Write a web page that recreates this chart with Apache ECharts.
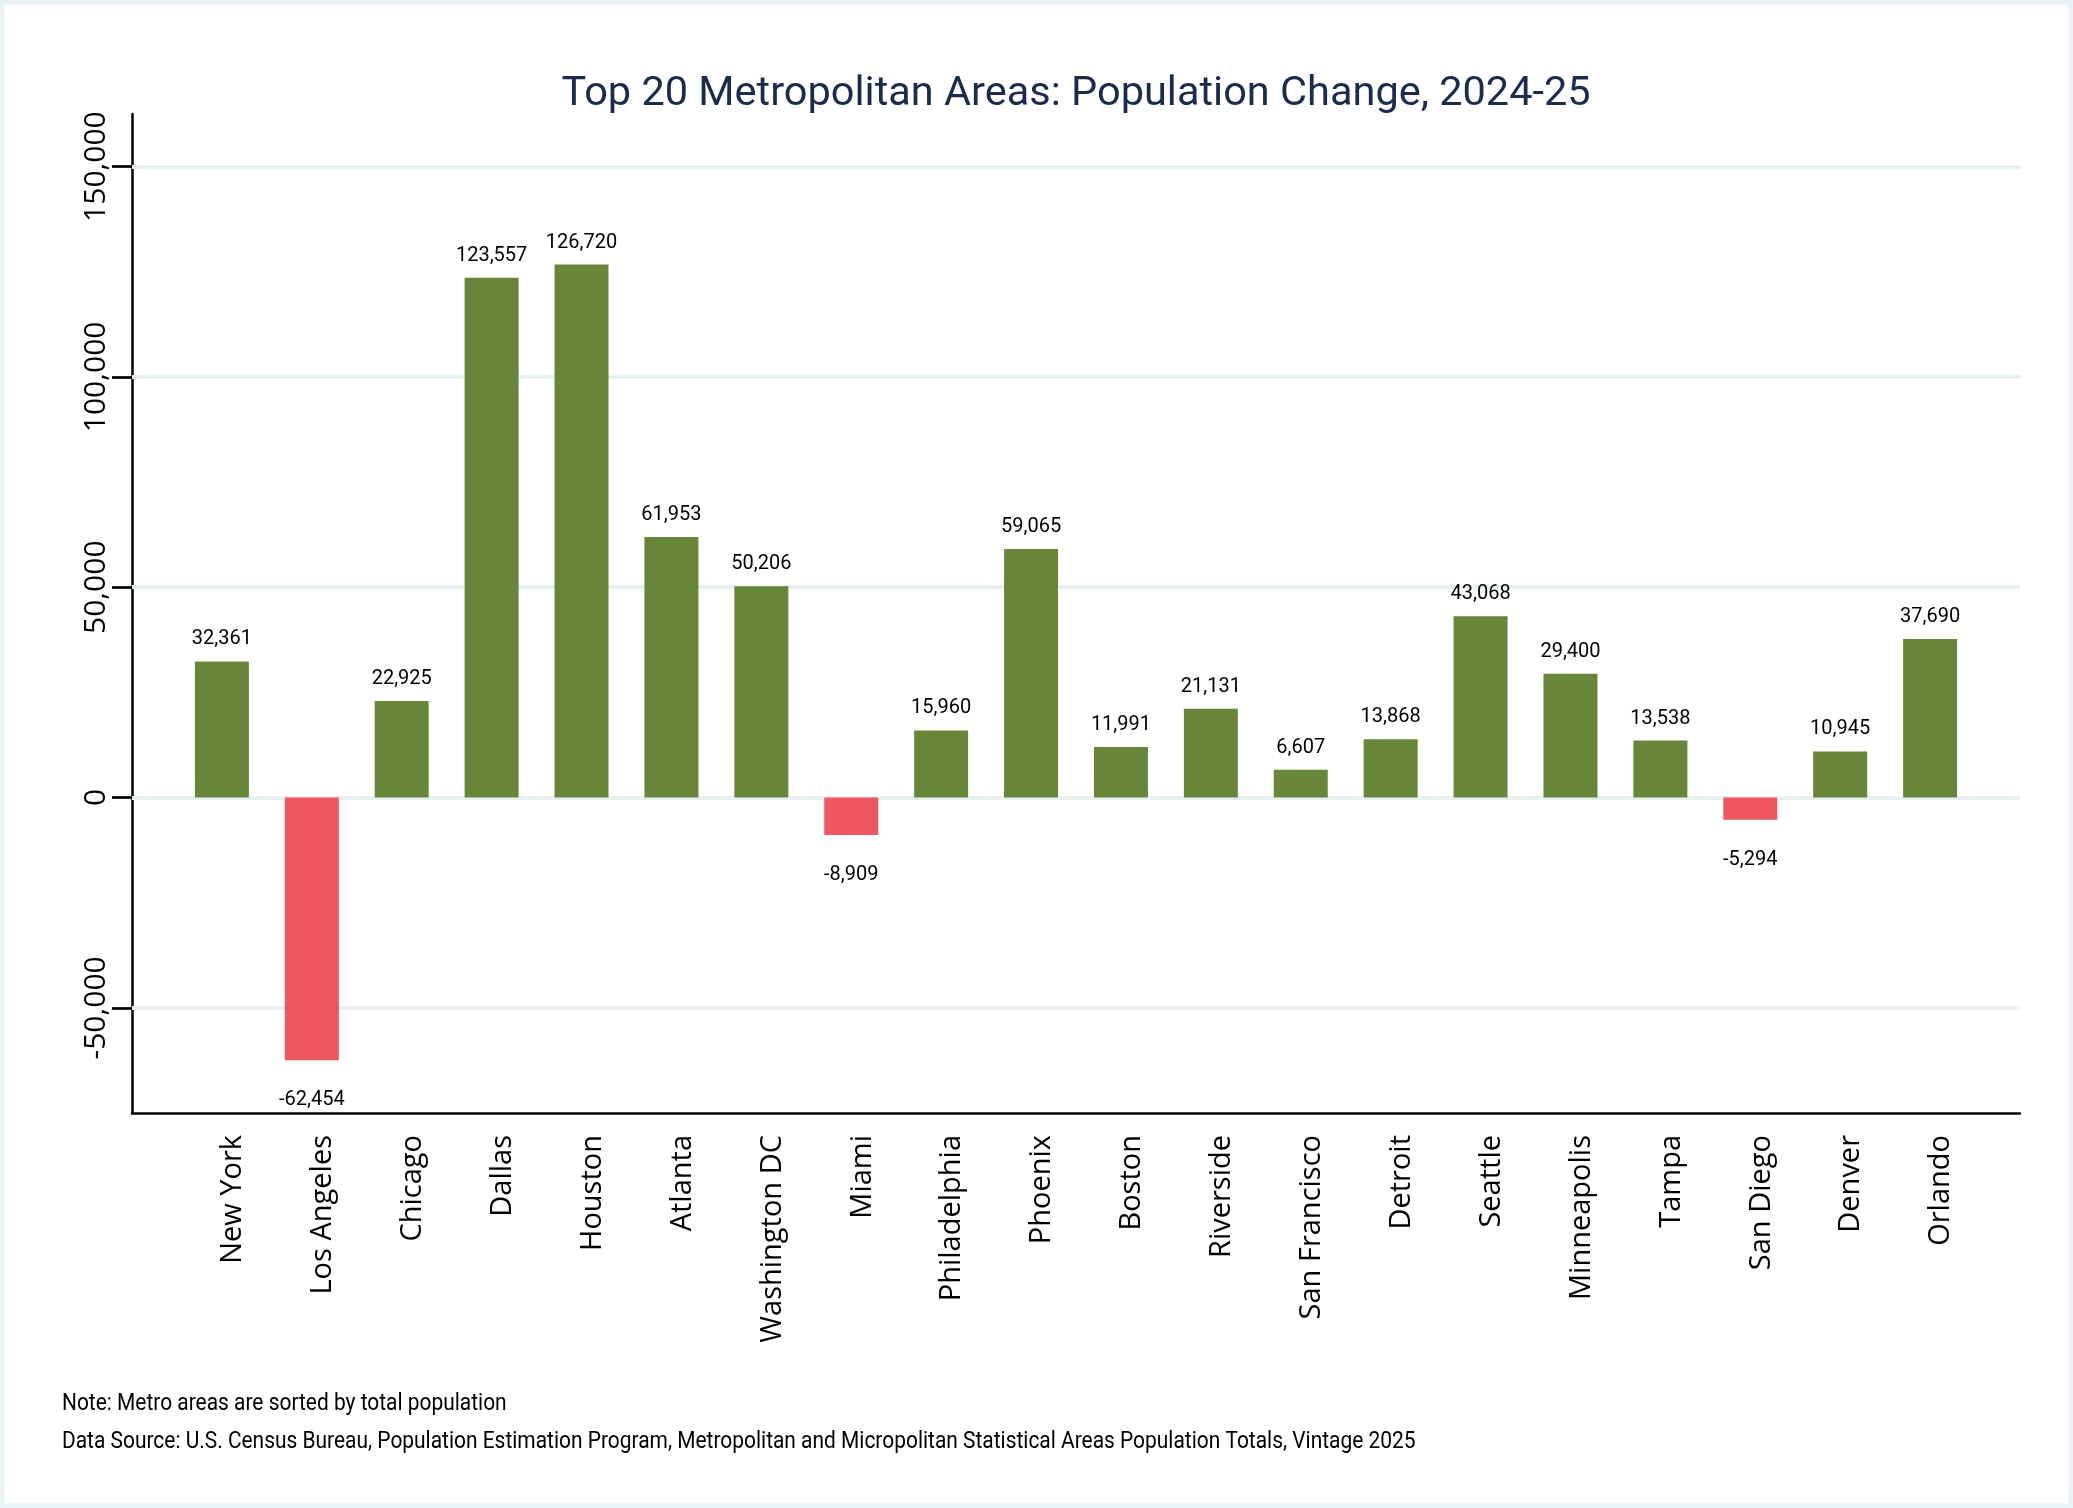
<!DOCTYPE html>
<html>
<head>
<meta charset="utf-8">
<script src="https://cdn.jsdelivr.net/npm/echarts@6/dist/echarts.min.js"></script>
<style>
  html, body { margin: 0; padding: 0; background: #ffffff; }
  #chart { width: 2073px; height: 1508px; }
</style>
</head>
<body>
<div id="chart"></div>
<script>
// ---- Data ----
const metros = ["New York", "Los Angeles", "Chicago", "Dallas", "Houston", "Atlanta", "Washington DC", "Miami", "Philadelphia", "Phoenix", "Boston", "Riverside", "San Francisco", "Detroit", "Seattle", "Minneapolis", "Tampa", "San Diego", "Denver", "Orlando"];
const popChange = [32361, -62454, 22925, 123557, 126720, 61953, 50206, -8909, 15960, 59065, 11991, 21131, 6607, 13868, 43068, 29400, 13538, -5294, 10945, 37690];
const yTicks = [-50000, 0, 50000, 100000, 150000];
const titleText = "Top 20 Metropolitan Areas: Population Change, 2024-25";
const noteText = "Note: Metro areas are sorted by total population";
const sourceText = "Data Source: U.S. Census Bureau, Population Estimation Program, Metropolitan and Micropolitan Statistical Areas Population Totals, Vintage 2025";

// ---- Styles ----
const GREEN = '#688639';
const RED = '#ee5760';
const GRID_COLOR = '#e8f0f2';
const fmt = v => Number(v).toLocaleString('en-US');

// pad categories on both ends so bars sit one slot in from each axis end
const cats = [''].concat(metros, ['']);
const seriesData = [null].concat(popChange.map(v => ({
  value: v,
  itemStyle: { color: v < 0 ? RED : GREEN },
  label: { position: v < 0 ? 'bottom' : 'top', distance: v < 0 ? 30 : 12 }
})), [null]);

const chart = echarts.init(document.getElementById('chart'), null, { renderer: 'canvas' });
chart.setOption({
  backgroundColor: '#ffffff',
  animation: false,
  grid: { left: 132, right: 53, top: 114, bottom: 395, containLabel: false },
  xAxis: {
    type: 'category',
    data: cats,
    boundaryGap: false,
    axisLine: { onZero: false, lineStyle: { color: '#000', width: 2.5 } },
    axisTick: { show: false },
    splitLine: { show: false },
    axisLabel: {
      interval: 0,
      rotate: 90,
      margin: 22,
      fontFamily: 'Open Sans',
      fontSize: 29,
      color: '#000',
      verticalAlign: 'top',
      lineHeight: 22
    }
  },
  yAxis: {
    type: 'value',
    min: -75000,
    max: 162500,
    axisLine: { show: true, lineStyle: { color: '#000', width: 2.5 } },
    axisTick: { show: true, length: 20, customValues: yTicks, lineStyle: { color: '#000', width: 2.7 } },
    splitLine: { show: false },
    axisLabel: {
      customValues: yTicks,
      rotate: 90,
      margin: 21,
      fontFamily: 'Open Sans',
      fontSize: 30,
      color: '#000',
      formatter: v => fmt(v)
    }
  },
  series: [{
    type: 'bar',
    data: seriesData,
    barWidth: 54,
    z: 2,
    label: {
      show: true,
      fontFamily: 'Roboto',
      fontSize: 20,
      color: '#000',
      formatter: p => fmt(p.value)
    },
    markLine: {
      silent: true,
      symbol: 'none',
      z: 1,
      label: { show: false },
      lineStyle: { color: GRID_COLOR, width: 4, type: 'solid' },
      data: yTicks.map(t => ({ yAxis: t }))
    }
  }],
  graphic: [
    {
      type: 'rect',
      shape: { x: 2, y: 2, width: 2069, height: 1504 },
      style: { fill: null, stroke: '#e9f1f4', lineWidth: 5 },
      silent: true
    },
    {
      type: 'text',
      x: 1076, y: 95,
      style: { text: titleText, font: '41.5px Roboto', fill: '#1c2a4b', align: 'center', verticalAlign: 'middle' }
    },
    {
      type: 'text',
      x: 62, y: 1404, scaleX: 0.91,
      style: { text: noteText, font: '23px Roboto', fill: '#000', align: 'left', verticalAlign: 'middle' }
    },
    {
      type: 'text',
      x: 62, y: 1442, scaleX: 0.91,
      style: { text: sourceText, font: '23px Roboto', fill: '#000', align: 'left', verticalAlign: 'middle' }
    }
  ]
});
</script>
</body>
</html>
